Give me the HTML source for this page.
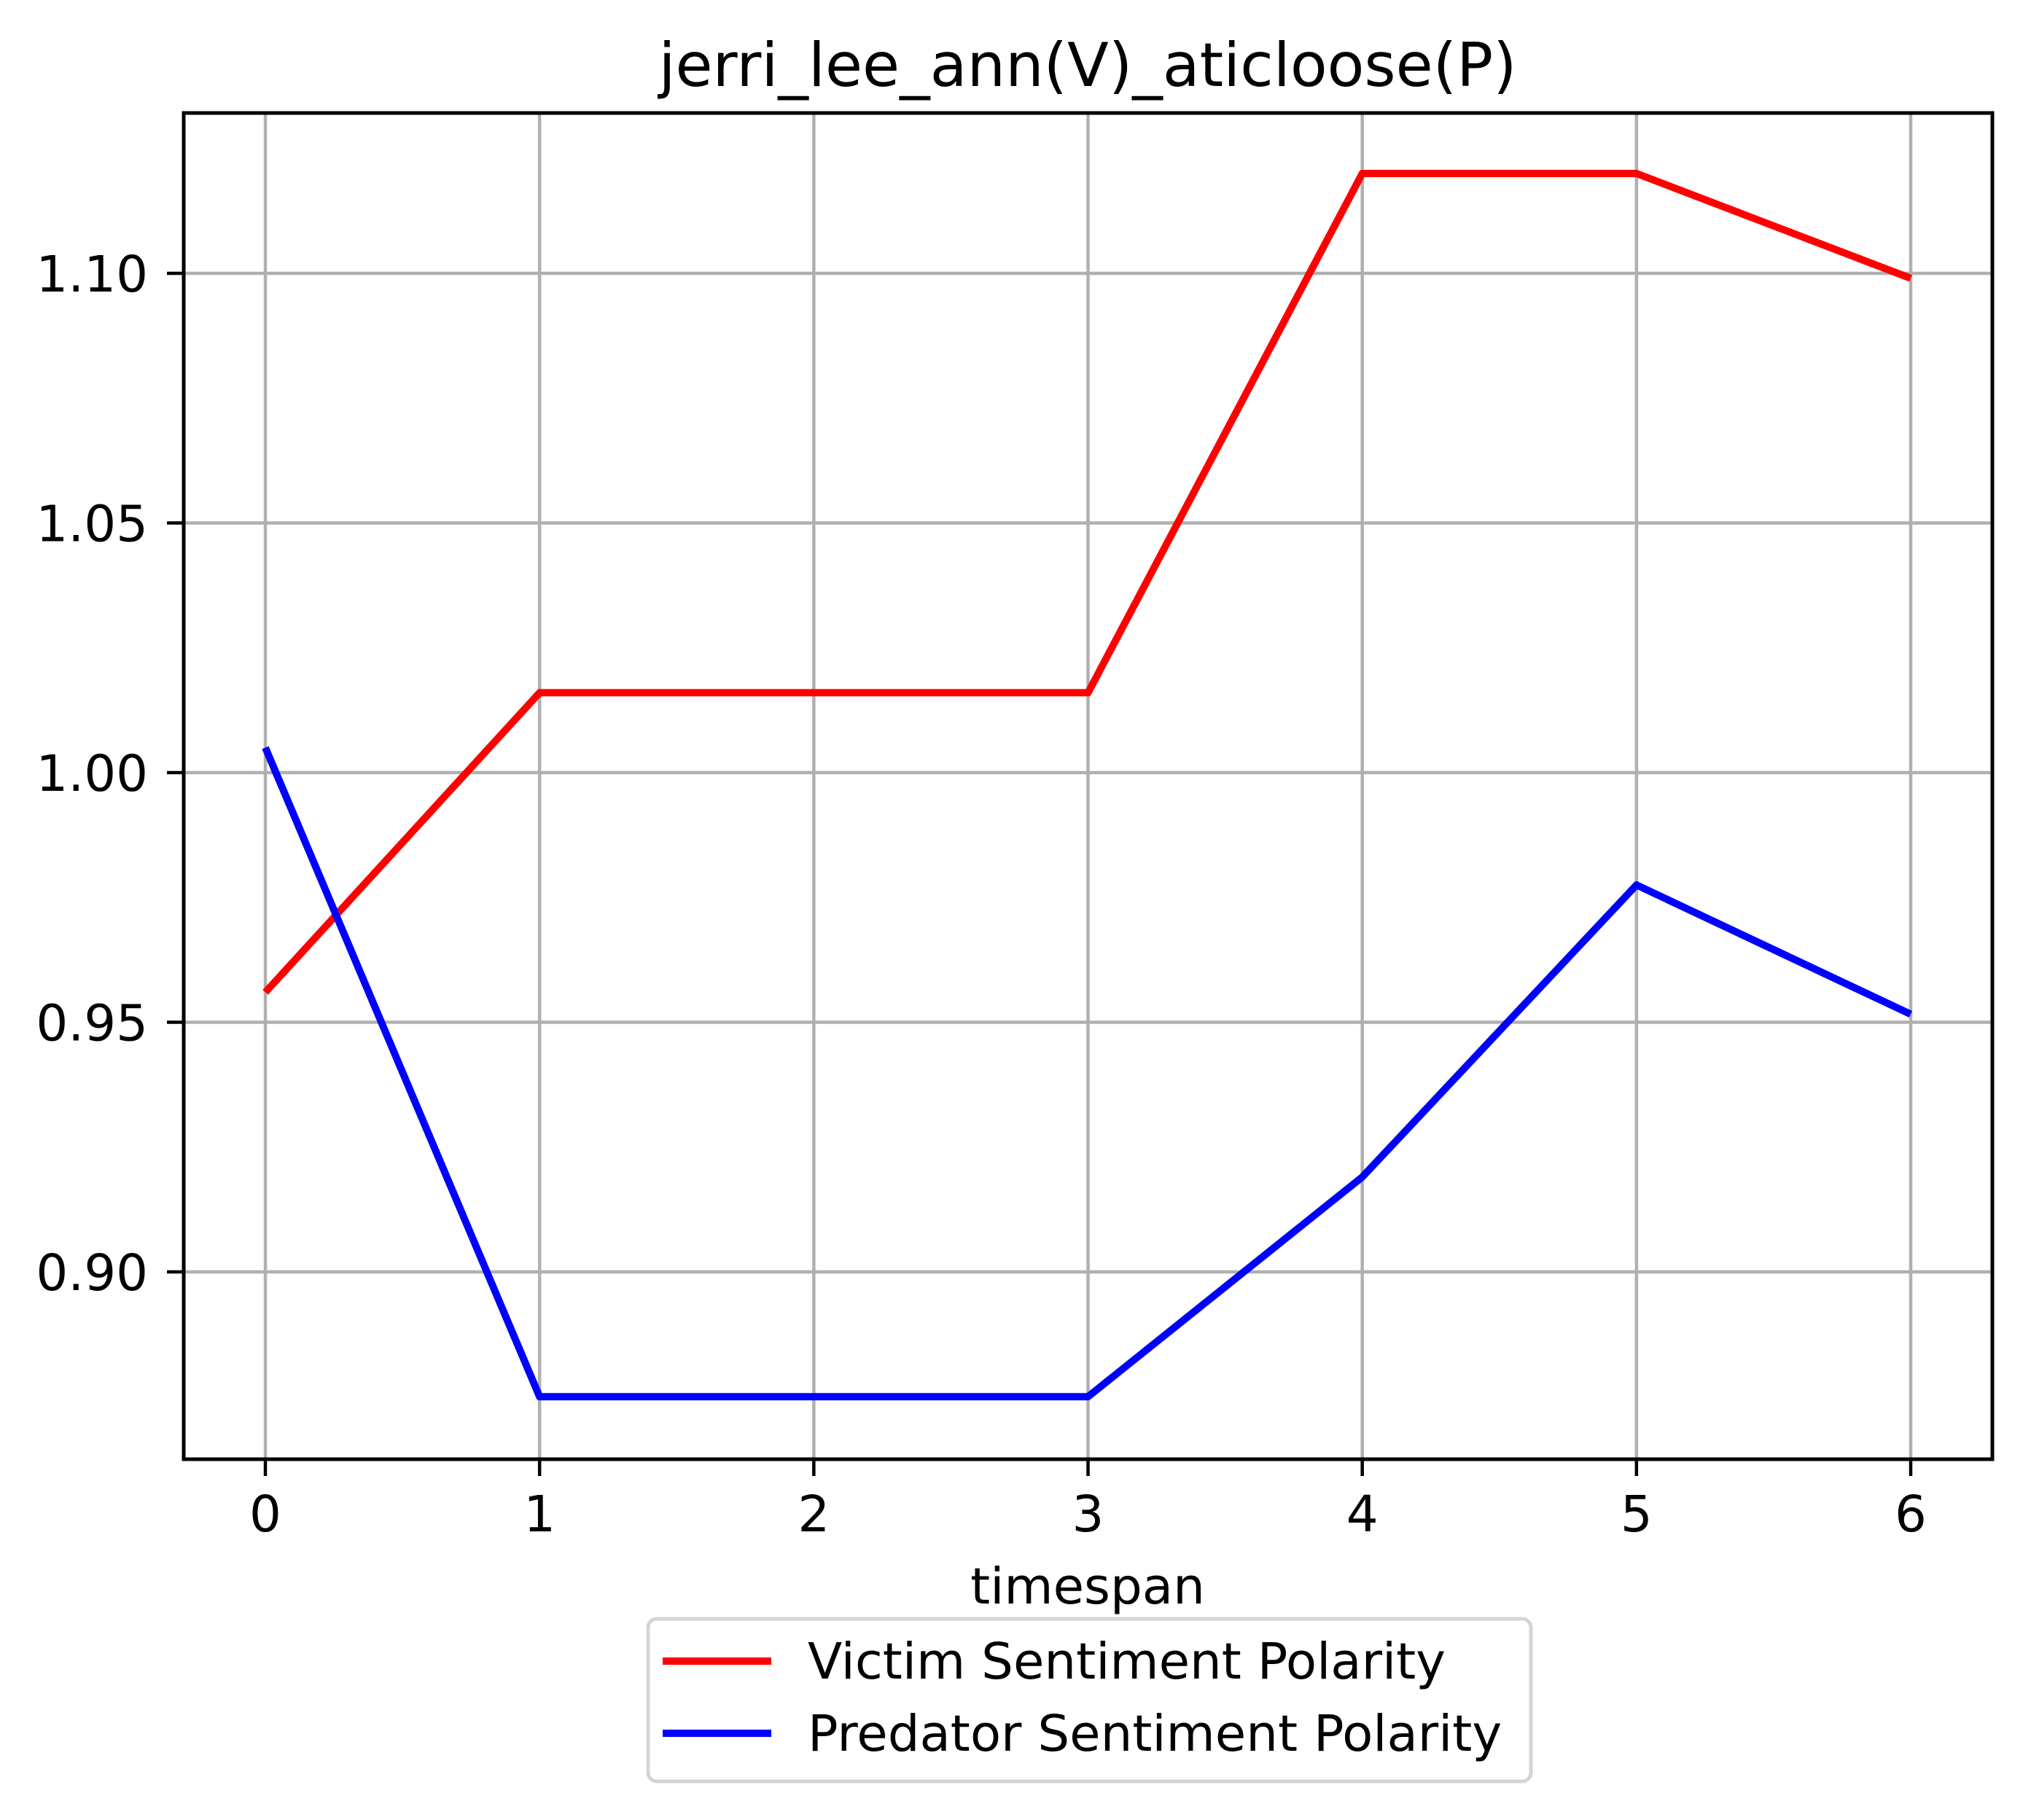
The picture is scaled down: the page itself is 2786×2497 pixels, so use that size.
<!DOCTYPE html>
<html><head><meta charset="utf-8"><style>
html,body{margin:0;padding:0;background:#fff;}
svg{display:block;font-family:"DejaVu Sans","Liberation Sans",sans-serif;}
</style></head><body>
<svg id="chart" width="2786" height="2497" viewBox="0 0 2786 2497" xmlns="http://www.w3.org/2000/svg">
<rect width="2786" height="2497" fill="#fff"/>
<g id="grid"></g>
<g id="series"></g>
<rect x="252" y="155" width="2481" height="1847" fill="none" stroke="#000" stroke-width="5"/>
<g id="ticks"></g>
<text x="1492" y="118" font-size="83" text-anchor="middle">jerri_lee_ann(V)_aticloose(P)</text>
<text x="1492" y="2200" font-size="69" text-anchor="middle">timespan</text>
<g>
<rect x="889" y="2221" width="1211" height="223" rx="12" fill="#fff" stroke="#d5d5d5" stroke-width="5"/>
<line x1="909" y1="2279" x2="1058" y2="2279" stroke="#ff0000" stroke-width="10"/>
<text x="1108" y="2303" font-size="69">Victim Sentiment Polarity</text>
<line x1="909" y1="2378" x2="1058" y2="2378" stroke="#0000ff" stroke-width="10"/>
<text x="1108" y="2402" font-size="69">Predator Sentiment Polarity</text>
</g>
</svg>
<script>
const xCategories = [0, 1, 2, 3, 4, 5, 6];
const victimValues = [0.956, 1.016, 1.016, 1.016, 1.120, 1.120, 1.099];
const predatorValues = [1.005, 0.875, 0.875, 0.875, 0.919, 0.9775, 0.9516];
const yTickValues = [0.90, 0.95, 1.00, 1.05, 1.10];
const yTickLabels = ["0.90", "0.95", "1.00", "1.05", "1.10"];
const xTickLabels = ["0", "1", "2", "3", "4", "5", "6"];

const NS = "http://www.w3.org/2000/svg";
function xs(v){ return 364 + (v - 0) * (2621 - 364) / 6; }
function ys(v){ return 1745 - (v - 0.90) * (1745 - 375) / 0.20; }
function mk(tag, attrs, parent){
  const el = document.createElementNS(NS, tag);
  for (const k in attrs) el.setAttribute(k, attrs[k]);
  parent.appendChild(el);
  return el;
}
const grid = document.getElementById('grid');
const ticks = document.getElementById('ticks');
const series = document.getElementById('series');

xCategories.forEach((c, i) => {
  const x = xs(c);
  const g = mk('line', {x1:x, y1:155, x2:x, y2:2002, stroke:'#b0b0b0', 'stroke-width':4.5}, grid);
  
  
  const t = mk('line', {x1:x, y1:2002, x2:x, y2:2025, stroke:'#000', 'stroke-width':4.5}, ticks);
  
  
  const l = mk('text', {x:x, y:2101, 'font-size':69, 'text-anchor':'middle'}, ticks);
  l.textContent = xTickLabels[i];
  
  
});
yTickValues.forEach((v, i) => {
  const y = ys(v);
  const g = mk('line', {x1:252, y1:y, x2:2733, y2:y, stroke:'#b0b0b0', 'stroke-width':4.5}, grid);
  
  
  const t = mk('line', {x1:229, y1:y, x2:252, y2:y, stroke:'#000', 'stroke-width':4.5}, ticks);
  
  
  const l = mk('text', {x:203, y:y + 25, 'font-size':69, 'text-anchor':'end'}, ticks);
  l.textContent = yTickLabels[i];
  
  
});
function drawLine(vals, color, name){
  const pts = vals.map((v, i) => xs(xCategories[i]) + ',' + ys(v)).join(' ');
  const p = mk('polyline', {points:pts, fill:'none', stroke:color, 'stroke-width':10, 'stroke-linejoin':'round'}, series);
  
  
}
drawLine(victimValues, '#ff0000', 'victim-sentiment-line');
drawLine(predatorValues, '#0000ff', 'predator-sentiment-line');
</script>
</body></html>
